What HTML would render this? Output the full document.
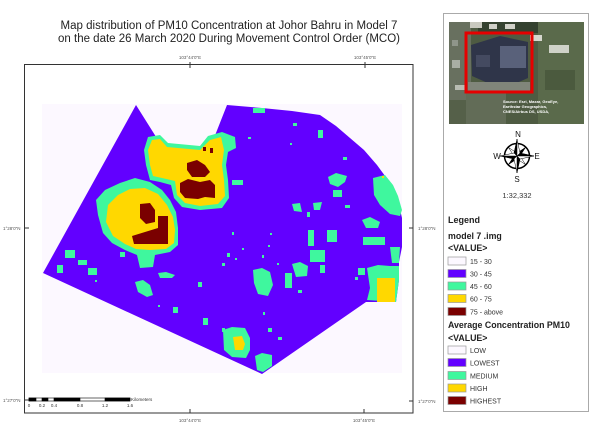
<!DOCTYPE html>
<html><head><meta charset="utf-8"><style>
html,body{margin:0;padding:0;background:#fff;}
svg{display:block;}
text{font-family:"Liberation Sans",Arial,sans-serif;}
</style></head><body>
<svg width="600" height="426" viewBox="0 0 600 426" xmlns="http://www.w3.org/2000/svg">
<rect x="0" y="0" width="600" height="426" fill="#fff"/>
<!-- title -->
<text x="229" y="29" font-size="11.5" text-anchor="middle" fill="#222">Map distribution of PM10 Concentration at Johor Bahru in Model 7</text>
<text x="229" y="42" font-size="11.5" text-anchor="middle" fill="#222">on the date 26 March 2020 During Movement Control Order (MCO)</text>

<!-- raster background -->
<rect x="42" y="104" width="360" height="269" fill="#fcf8ff"/>

<!-- purple area -->
<polygon fill="#6200ff" points="136,105 158,140 165,148 210,148 214,138 227,105 262,108 292,111 320,115 336,126 350,138 364,150 377,165 388,180 397,196 402,218 402,247 399,262 399,280 396,302 366,302 262,374 43,273"/>

<!-- upper blob -->
<polygon fill="#3ff79e" points="148,137 160,135 168,143 200,146 208,136 222,132 235,137 236,148 228,152 226,165 228,180 229,198 222,208 200,210 182,207 174,198 171,185 160,182 150,180 146,165 144,150"/>
<polygon fill="#ffd800" points="152,140 160,139 167,147 200,150 210,140 221,137 224,150 222,165 224,180 225,196 218,204 200,206 185,203 177,195 175,181 162,178 153,176 150,165 148,150"/>
<polygon fill="#7a0000" points="187,163 197,160 205,165 210,172 205,177 192,177 187,170"/>
<polygon fill="#7a0000" points="180,183 188,179 200,182 210,180 215,185 215,198 205,197 198,199 185,198 180,192"/>
<rect x="203" y="147" width="3" height="4" fill="#7a0000"/>
<rect x="210" y="148" width="3" height="5" fill="#7a0000"/>

<!-- lower blob -->
<polygon fill="#3ff79e" points="96,200 105,190 120,183 135,178 150,182 162,190 170,200 176,212 178,228 178,245 170,252 155,255 153,267 140,268 137,255 125,250 112,243 103,233 98,215"/>
<polygon fill="#ffd800" points="108,205 118,195 130,189 145,188 158,194 167,205 173,217 175,230 174,243 166,249 150,250 136,249 125,244 113,236 106,222"/>
<polygon fill="#7a0000" points="140,204 150,203 155,210 155,222 146,224 140,218"/>
<polygon fill="#7a0000" points="158,216 168,216 168,244 134,244 132,236 145,232 158,228"/>

<!-- right edge areas -->
<polygon fill="#3ff79e" points="373,178 385,175 393,185 398,196 402,210 400,216 390,214 380,205 374,195"/>
<polygon fill="#3ff79e" points="390,247 400,247 399,263 392,263"/>
<polygon fill="#3ff79e" points="367,268 378,265 390,266 399,266 399,280 396,302 367,300 370,288"/>
<rect x="377" y="278" width="18" height="24" fill="#ffd800"/>
<rect x="382" y="176" width="2" height="2" fill="#ffd800"/>

<!-- mid blob -->
<polygon fill="#3ff79e" points="223,330 232,327 245,328 250,338 250,350 246,358 232,357 224,350"/>
<polygon fill="#ffd800" points="233,337 242,336 245,344 243,350 235,350"/>
<polygon fill="#3ff79e" points="255,356 262,353 272,355 272,366 263,372 257,370"/>

<!-- green specks -->
<g fill="#3ff79e">
<rect x="253" y="108" width="12" height="5"/>
<rect x="293" y="123" width="4" height="3"/>
<rect x="318" y="130" width="5" height="8"/>
<rect x="248" y="137" width="3" height="2"/>
<rect x="290" y="143" width="2" height="2"/>
<rect x="343" y="157" width="4" height="3"/>
<rect x="232" y="180" width="11" height="5"/>
<polygon points="328,177 336,173 347,176 345,182 338,187 330,184"/>
<rect x="333" y="190" width="9" height="7"/>
<polygon points="292,204 300,203 302,212 294,211"/>
<polygon points="313,203 322,202 320,210 314,210"/>
<rect x="307" y="212" width="3" height="5"/>
<rect x="345" y="205" width="5" height="3"/>
<polygon points="362,220 370,217 380,222 378,228 366,228"/>
<rect x="308" y="230" width="6" height="16"/>
<rect x="327" y="230" width="10" height="12"/>
<rect x="363" y="237" width="22" height="8"/>
<rect x="232" y="232" width="2" height="3"/>
<rect x="310" y="250" width="15" height="12"/>
<polygon points="292,264 300,262 308,266 307,276 296,277"/>
<polygon points="253,270 262,268 270,272 273,285 268,296 258,294 254,283"/>
<rect x="285" y="273" width="7" height="15"/>
<rect x="320" y="265" width="5" height="8"/>
<rect x="298" y="290" width="4" height="3"/>
<rect x="222" y="328" width="3" height="4"/>
<rect x="268" y="328" width="4" height="4"/>
<rect x="278" y="337" width="4" height="3"/>
<rect x="263" y="312" width="2" height="3"/>
<rect x="355" y="277" width="3" height="3"/>
<rect x="358" y="268" width="7" height="7"/>
<rect x="222" y="263" width="3" height="3"/>
<rect x="262" y="255" width="2" height="3"/>
<rect x="270" y="233" width="2" height="2"/>
<rect x="268" y="245" width="2" height="2"/>
<rect x="242" y="248" width="2" height="2"/>
<rect x="228" y="255" width="2" height="2"/>
<rect x="235" y="258" width="2" height="2"/>
<rect x="277" y="263" width="2" height="2"/>
<rect x="65" y="250" width="10" height="8"/>
<rect x="78" y="260" width="9" height="5"/>
<rect x="57" y="265" width="6" height="8"/>
<rect x="88" y="268" width="9" height="7"/>
<rect x="95" y="280" width="2" height="2"/>
<rect x="120" y="252" width="5" height="5"/>
<polygon points="135,282 143,280 150,285 153,295 147,297 138,292"/>
<polygon points="158,273 166,272 175,275 172,278 160,278"/>
<rect x="173" y="307" width="5" height="6"/>
<rect x="198" y="282" width="4" height="5"/>
<rect x="203" y="318" width="5" height="7"/>
<rect x="158" y="305" width="2" height="2"/>
<rect x="227" y="253" width="3" height="4"/>
<rect x="120" y="183" width="7" height="7"/>
</g>

<!-- map frame -->
<rect x="24.5" y="64.5" width="388.5" height="348.5" fill="none" stroke="#333" stroke-width="1"/>
<g stroke="#333" stroke-width="1">
<line x1="190" y1="62" x2="190" y2="68"/>
<line x1="365" y1="62" x2="365" y2="68"/>
<line x1="190" y1="409" x2="190" y2="413"/>
<line x1="364" y1="409" x2="364" y2="413"/>
<line x1="25" y1="228" x2="29" y2="228"/>
<line x1="25" y1="400" x2="29" y2="400"/>
<line x1="409" y1="228" x2="413" y2="228"/>
<line x1="409" y1="401" x2="413" y2="401"/>
</g>
<g font-size="4.5" fill="#555">
<text x="190" y="59" text-anchor="middle">103°44'0"E</text>
<text x="365" y="59" text-anchor="middle">103°45'0"E</text>
<text x="190" y="422" text-anchor="middle">103°44'0"E</text>
<text x="364" y="422" text-anchor="middle">103°45'0"E</text>
<text x="3" y="230">1°28'0"N</text>
<text x="3" y="402">1°27'0"N</text>
<text x="418" y="230">1°28'0"N</text>
<text x="418" y="403">1°27'0"N</text>
</g>

<!-- scale bar -->
<g stroke="#000" stroke-width="0.6">
<rect x="29" y="398" width="101" height="3" fill="#fff"/>
<rect x="29" y="398" width="7" height="3" fill="#000"/>
<rect x="42" y="398" width="6" height="3" fill="#000"/>
<rect x="54" y="398" width="26" height="3" fill="#000"/>
<rect x="105" y="398" width="25" height="3" fill="#000"/>
</g>
<g font-size="4.5" fill="#333">
<text x="29" y="407" text-anchor="middle">0</text>
<text x="42" y="407" text-anchor="middle">0.2</text>
<text x="54" y="407" text-anchor="middle">0.4</text>
<text x="80" y="407" text-anchor="middle">0.8</text>
<text x="105" y="407" text-anchor="middle">1.2</text>
<text x="130" y="407" text-anchor="middle">1.6</text>
<text x="131" y="401">Kilometers</text>
</g>

<!-- right panel -->
<rect x="443.5" y="13.5" width="145" height="398" fill="#fff" stroke="#aaa" stroke-width="1"/>

<!-- satellite image -->
<rect x="449" y="22" width="135" height="102" fill="#4e5b42"/>
<rect x="449" y="22" width="22" height="102" fill="#68705f"/>
<rect x="452" y="40" width="6" height="6" fill="#8f958a"/>
<rect x="452" y="60" width="8" height="8" fill="#a9aea4"/>
<rect x="455" y="85" width="10" height="5" fill="#b8bcb2"/>
<rect x="449" y="100" width="20" height="24" fill="#556049"/>
<rect x="478" y="22" width="60" height="11" fill="#34412f"/>
<rect x="470" y="22" width="12" height="6" fill="#c9c9bf"/>
<rect x="489" y="24" width="8" height="5" fill="#d0d0c8"/>
<rect x="505" y="24" width="10" height="5" fill="#d0d0c8"/>
<polygon points="471,45 500,36 528,42 528,78 512,85 490,84 472,76" fill="#2f3549"/>
<rect x="500" y="46" width="26" height="22" fill="#59617a"/>
<rect x="476" y="55" width="14" height="12" fill="#444a60"/>
<rect x="468" y="82" width="62" height="10" fill="#80857a"/>
<rect x="538" y="22" width="46" height="102" fill="#5a6a4b"/>
<rect x="545" y="70" width="30" height="20" fill="#4b5a3e"/>
<rect x="549" y="45" width="20" height="8" fill="#cfd2c8"/>
<rect x="530" y="35" width="12" height="6" fill="#d6d6ce"/>
<rect x="466" y="92" width="40" height="32" fill="#626c57"/>
<rect x="466" y="33" width="66" height="59" fill="none" stroke="#e60000" stroke-width="3"/>
<g font-size="4" fill="#fff" font-weight="bold">
<text x="503" y="103">Source: Esri, Maxar, GeoEye,</text>
<text x="503" y="108">Earthstar Geographics,</text>
<text x="503" y="113">CNES/Airbus DS, USDA,</text>
</g>

<!-- compass -->
<g>
<circle cx="517" cy="156" r="12.5" fill="none" stroke="#000" stroke-width="1.5"/>
<g stroke="#000" stroke-width="0.5" stroke-linejoin="miter">
<polygon points="525.5,147.5 517,153 520,156" fill="#000"/>
<polygon points="525.5,164.5 520,156 517,159" fill="#fff"/>
<polygon points="508.5,164.5 517,159 514,156" fill="#000"/>
<polygon points="508.5,147.5 514,156 517,153" fill="#fff"/>
<polygon points="525.5,147.5 517,153 514,156" fill="#fff"/>
<polygon points="517,139 514,153 517,156" fill="#000"/>
<polygon points="517,139 520,153 517,156" fill="#fff"/>
<polygon points="534,156 520,153 517,156" fill="#000"/>
<polygon points="534,156 520,159 517,156" fill="#fff"/>
<polygon points="517,173 520,159 517,156" fill="#000"/>
<polygon points="517,173 514,159 517,156" fill="#fff"/>
<polygon points="500,156 514,159 517,156" fill="#000"/>
<polygon points="500,156 514,153 517,156" fill="#fff"/>
</g>
<g font-family="Liberation Serif,serif" font-size="8" fill="#111" text-anchor="middle">
<text x="518" y="137">N</text>
<text x="517" y="182">S</text>
<text x="497" y="159">W</text>
<text x="537" y="159">E</text>
</g>
<text x="517" y="198" font-size="7.5" text-anchor="middle" fill="#333">1:32,332</text>
</g>

<!-- legend -->
<g fill="#222">
<text x="448" y="223" font-size="9" font-weight="bold">Legend</text>
<text x="448" y="239" font-size="8.8" font-weight="bold">model 7 .img</text>
<text x="448" y="251" font-size="8.8" font-weight="bold">&lt;VALUE&gt;</text>
<text x="448" y="328" font-size="8.8" font-weight="bold">Average Concentration PM10</text>
<text x="448" y="341" font-size="8.8" font-weight="bold">&lt;VALUE&gt;</text>
</g>
<g stroke="#999" stroke-width="0.7">
<rect x="448" y="257" width="18" height="8" fill="#fcf8ff"/>
<rect x="448" y="269.5" width="18" height="8" fill="#6200ff"/>
<rect x="448" y="282" width="18" height="8" fill="#3ff79e"/>
<rect x="448" y="294.5" width="18" height="8" fill="#ffd800"/>
<rect x="448" y="307.5" width="18" height="8" fill="#7a0000"/>
<rect x="448" y="346" width="18" height="8" fill="#fcf8ff"/>
<rect x="448" y="358.5" width="18" height="8" fill="#6200ff"/>
<rect x="448" y="371.5" width="18" height="8" fill="#3ff79e"/>
<rect x="448" y="384" width="18" height="8" fill="#ffd800"/>
<rect x="448" y="396.5" width="18" height="8" fill="#7a0000"/>
</g>
<g font-size="7" fill="#333">
<text x="470" y="264">15 - 30</text>
<text x="470" y="276.5">30 - 45</text>
<text x="470" y="289">45 - 60</text>
<text x="470" y="301.5">60 - 75</text>
<text x="470" y="314.5">75 - above</text>
<text x="470" y="353">LOW</text>
<text x="470" y="365.5">LOWEST</text>
<text x="470" y="378.5">MEDIUM</text>
<text x="470" y="391">HIGH</text>
<text x="470" y="403.5">HIGHEST</text>
</g>
</svg>
</body></html>
